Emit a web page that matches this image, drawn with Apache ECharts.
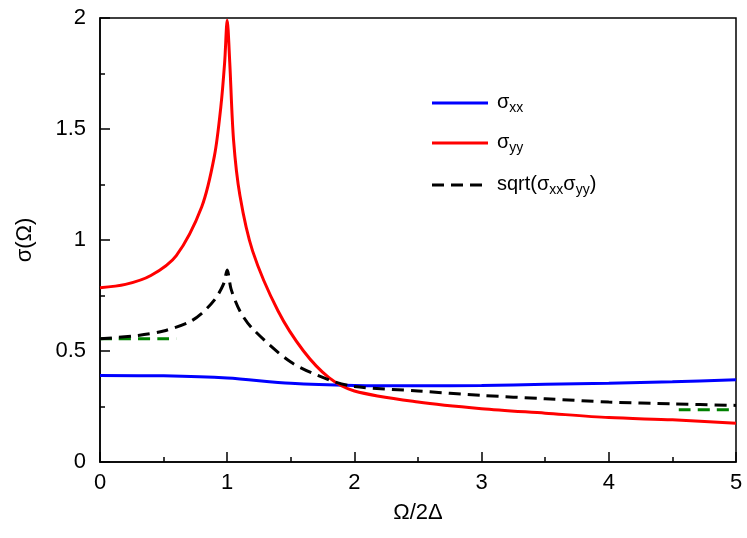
<!DOCTYPE html>
<html><head><meta charset="utf-8">
<script src="https://cdn.jsdelivr.net/npm/echarts@6/dist/echarts.min.js"></script>
<style>html,body{margin:0;background:#fff}#c{width:747px;height:538px}</style>
</head><body><div id="c"></div>
<script>
const sigmaYY = [[0,0.785],[0.2,0.8],[0.4,0.84],[0.6,0.93],[0.8,1.15],[0.9,1.38],[0.95,1.6],[0.98,1.8],[1.0,1.99],[1.02,1.8],[1.05,1.45],[1.1,1.2],[1.2,0.95],[1.4,0.68],[1.6,0.5],[1.8,0.38],[2.0,0.32],[2.5,0.27],[3,0.24],[3.5,0.22],[4,0.2],[4.5,0.19],[5,0.175]];
const sigmaXX = [[0,0.39],[0.5,0.388],[1,0.378],[1.5,0.355],[2,0.345],[2.5,0.343],[3,0.345],[3.5,0.35],[4,0.355],[4.5,0.362],[5,0.37]];
const sqrtXY = [[0,0.555],[0.3,0.57],[0.5,0.59],[0.7,0.63],[0.8,0.67],[0.9,0.73],[0.97,0.8],[1.0,0.865],[1.03,0.78],[1.1,0.68],[1.2,0.6],[1.5,0.45],[1.8,0.37],[2,0.34],[2.5,0.32],[3,0.3],[3.5,0.285],[4,0.27],[4.5,0.262],[5,0.255]];
const greenLow = [[0,0.555],[0.6,0.555]];
const greenHigh = [[4.55,0.235],[5,0.235]];

const font = 'Liberation Sans';
const chart = echarts.init(document.getElementById('c'));
const line = (data, color, dashed) => ({
  type: 'line', data, symbol: 'none', smooth: 0.3,
  lineStyle: { color, width: 3, type: dashed ? [12, 7] : 'solid' }
});
const legendItems = [
  { y: 103, color: '#0000ff', dashed: false, text: '{n|σ}{s|xx}' },
  { y: 143, color: '#ff0000', dashed: false, text: '{n|σ}{s|yy}' },
  { y: 185, color: '#000000', dashed: true, text: '{n|sqrt(σ}{s|xx}{n|σ}{s|yy}{n|)}' }
];
chart.setOption({
  animation: false,
  grid: { left: 100, right: 11, top: 18, bottom: 76 },
  xAxis: {
    type: 'value', min: 0, max: 5, interval: 1,
    name: 'Ω/2Δ', nameLocation: 'middle', nameGap: 40,
    nameTextStyle: { fontFamily: font, fontSize: 22, color: '#000' },
    axisLine: { lineStyle: { color: '#000', width: 1.5 } },
    axisTick: { inside: true, length: 10, lineStyle: { color: '#000', width: 1.5 } },
    minorTick: { show: true, splitNumber: 2, length: 5, lineStyle: { color: '#000', width: 1.5 } },
    axisLabel: { fontFamily: font, fontSize: 22, color: '#000', margin: 10 },
    splitLine: { show: false }
  },
  yAxis: {
    type: 'value', min: 0, max: 2, interval: 0.5,
    name: 'σ(Ω)', nameLocation: 'middle', nameGap: 64,
    nameTextStyle: { fontFamily: font, fontSize: 22, color: '#000' },
    axisLine: { show: true, lineStyle: { color: '#000', width: 1.5 } },
    axisTick: { inside: true, length: 10, lineStyle: { color: '#000', width: 1.5 } },
    minorTick: { show: true, splitNumber: 2, length: 5, lineStyle: { color: '#000', width: 1.5 } },
    axisLabel: { fontFamily: font, fontSize: 22, color: '#000', margin: 14 },
    splitLine: { show: false }
  },
  graphic: [
    { type: 'rect', shape: { x: 100, y: 18, width: 636, height: 444 }, style: { fill: 'none', stroke: '#000', lineWidth: 1.5 }, silent: true },
    ...legendItems.flatMap(it => [
      { type: 'line', shape: { x1: 432, y1: it.y, x2: 488, y2: it.y }, style: { stroke: it.color, lineWidth: 3, lineDash: it.dashed ? [12, 7] : null } },
      { type: 'text', x: 497, y: it.y - 14, style: { text: it.text, rich: {
        n: { fontFamily: font, fontSize: 20, fill: '#000' },
        s: { fontFamily: font, fontSize: 14, fill: '#000', padding: [12, 0, 0, 0] }
      } } }
    ])
  ],
  series: [
    line(greenLow, '#008000', true),
    line(greenHigh, '#008000', true),
    line(sigmaXX, '#0000ff', false),
    line(sigmaYY, '#ff0000', false),
    line(sqrtXY, '#000000', true)
  ]
});
</script></body></html>
